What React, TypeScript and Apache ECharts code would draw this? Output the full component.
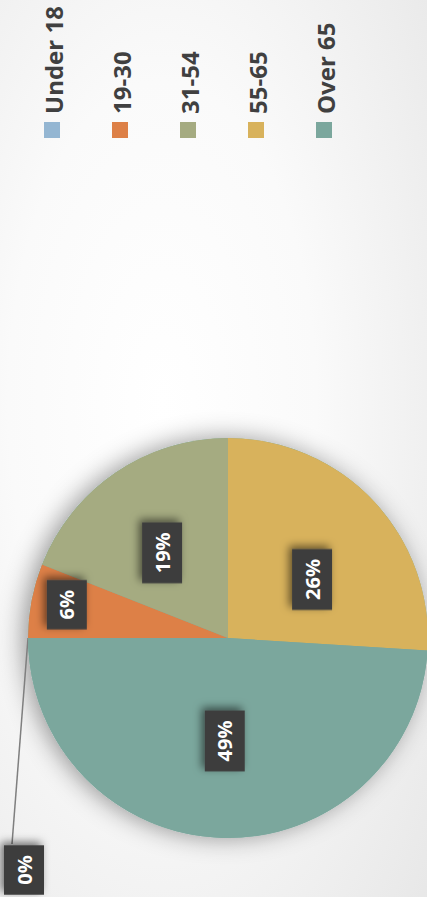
import React, { useEffect, useRef } from "react";
import * as echarts from "echarts";

const categories = ["Under 18", "19-30", "31-54", "55-65", "Over 65"];
const shares = [0, 6, 19, 26, 49];
const colors = ["#94b6d2", "#dd8047", "#a5ab81", "#d8b25c", "#7ba79d"];

const W = 427;
const H = 897;

export default function App() {
  const ref = useRef<HTMLDivElement>(null);

  useEffect(() => {
    document.body.style.margin = "0";
    const chart = echarts.init(ref.current!, null, { renderer: "svg" });

    const legendGraphics: any[] = categories.map((name, i) => {
      const x0 = 44 + i * 68;
      return {
        type: "group",
        children: [
          {
            type: "rect",
            shape: { x: x0, y: 122, width: 16, height: 16 },
            style: { fill: colors[i] },
          },
          {
            type: "text",
            x: x0 + 21,
            y: 114,
            rotation: Math.PI / 2,
            style: {
              text: name,
              fill: "#404040",
              font: "bold 24px 'Open Sans', sans-serif",
              textAlign: "left",
              textVerticalAlign: "bottom",
            },
          },
        ],
      };
    });

    const labelBox = {
      color: "#ffffff",
      fontFamily: "'Open Sans', sans-serif",
      fontWeight: "bold",
      fontSize: 20,
      lineHeight: 22,
      backgroundColor: "#3d3d3d",
      padding: [9, 10],
      shadowColor: "rgba(0,0,0,0.55)",
      shadowBlur: 8,
      shadowOffsetX: 3,
      shadowOffsetY: -3,
      rotate: 90,
    };

    // screen-space nudges converted into the label's rotated frame
    const nudge = (sx: number, sy: number) => ({ dx: -sy, dy: sx });

    const option: any = {
      animation: false,
      backgroundColor: new echarts.graphic.RadialGradient(0.38, 0.45, 1.2, [
        { offset: 0, color: "#ffffff" },
        { offset: 0.3, color: "#fafafa" },
        { offset: 1, color: "#d9d9d9" },
      ]),
      graphic: legendGraphics,
      series: [
        {
          type: "pie",
          silent: true,
          center: [228, 638],
          radius: 200,
          label: { show: false },
          labelLine: { show: false },
          itemStyle: {
            color: "#7ba79d",
            shadowBlur: 24,
            shadowOffsetX: -5,
            shadowColor: "rgba(0,0,0,0.4)",
          },
          data: [{ value: 1, name: "shadow" }],
          z: 1,
        },
        {
          type: "pie",
          center: [228, 638],
          radius: 200,
          startAngle: 180,
          clockwise: true,
          avoidLabelOverlap: false,
          z: 2,
          itemStyle: { borderWidth: 0 },
          label: {
            show: true,
            position: "inside",
            formatter: (p: any) => Math.round(p.percent) + "%",
            ...labelBox,
          },
          labelLine: {
            show: true,
            length: 10,
            length2: 10,
            lineStyle: { color: "#7f7f7f", width: 1.5 },
          },
          labelLayout: (params: any) => {
            const i = params.dataIndex;
            if (i === 0) {
              const cx = 24;
              const cy = chart.getHeight() - 27;
              const anchor = params.labelLinePoints
                ? params.labelLinePoints[0]
                : null;
              const res: any = {
                x: cx,
                y: cy,
                align: "center",
                verticalAlign: "middle",
              };
              if (anchor) {
                res.labelLinePoints = [
                  anchor,
                  [cx - 12, cy - 26],
                  [cx - 12, cy - 26],
                ];
              }
              return res;
            }
            if (i === 1) return nudge(-60, -14);
            if (i === 2) return nudge(-8, 0);
            if (i === 3) return nudge(9, 12);
            return {};
          },
          data: categories.map((name, i) => ({
            name,
            value: shares[i],
            itemStyle: { color: colors[i] },
            label: i === 0 ? { position: "outside" } : undefined,
          })),
        },
      ],
    };

    chart.setOption(option);
    return () => chart.dispose();
  }, []);

  return <div ref={ref} style={{ width: W, height: H }} />;
}
